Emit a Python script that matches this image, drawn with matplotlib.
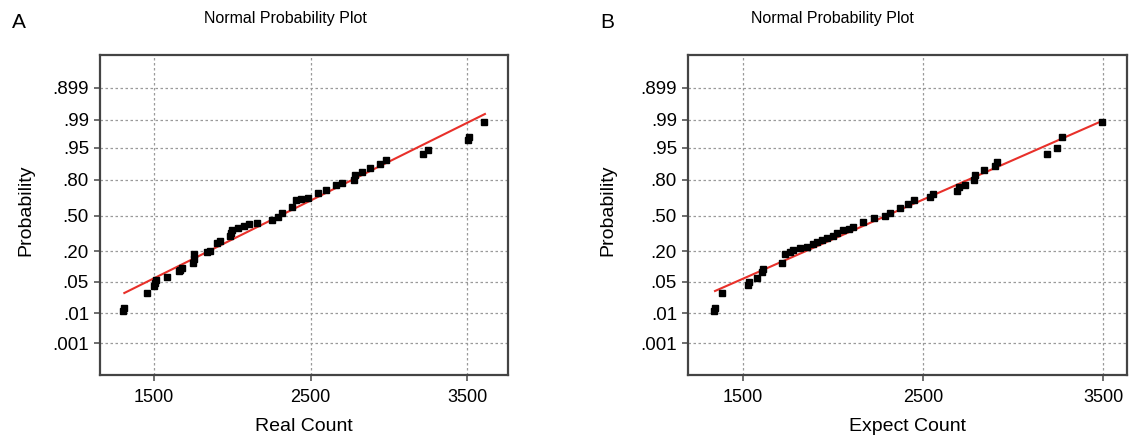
import numpy as np
import matplotlib
matplotlib.use("Agg")
import matplotlib.pyplot as plt

plt.rcParams['font.family'] = ['Liberation Sans', 'DejaVu Sans']

# probability axis: tick labels and their positions on the plot's vertical scale
prob_labels = ['.001', '.01', '.05', '.20', '.50', '.80', '.95', '.99', '.899']
prob_pos = [32, 62, 93, 124, 159, 195, 227, 255, 287]
x_ticks = [1500, 2500, 3500]

# panel A - real count
real_x = [1308, 1312, 1457, 1505, 1511, 1513, 1585, 1660, 1671, 1680, 1750, 1756, 1760,
          1841, 1860, 1905, 1925, 1985, 1991, 2000, 2040, 2076, 2110, 2161, 2257, 2290,
          2321, 2380, 2407, 2440, 2481, 2545, 2600, 2662, 2700, 2780, 2785, 2830, 2876,
          2940, 2982, 3217, 3249, 3505, 3510, 3605]
real_y = [64, 67, 82, 89, 92, 95, 98, 104, 105, 107, 112, 116, 121,
          123, 124, 132, 134, 139, 142, 145, 147, 149, 151, 152, 155, 158,
          162, 168, 175, 176, 177, 182, 185, 190, 192, 195, 200, 203, 207,
          211, 215, 221, 225, 235, 238, 253]
real_fit_x = [1314, 3611]
real_fit_y = [82, 261]

# panel B - expect count
exp_x = [1341, 1345, 1383, 1528, 1533, 1578, 1605, 1615, 1717, 1735, 1760, 1781, 1820,
         1856, 1890, 1911, 1940, 1967, 2000, 2022, 2059, 2090, 2114, 2170, 2226, 2290,
         2318, 2374, 2420, 2448, 2540, 2555, 2689, 2700, 2735, 2781, 2790, 2837, 2900,
         2911, 3189, 3244, 3272, 3494]
exp_y = [64, 67, 82, 90, 93, 97, 103, 106, 112, 121, 123, 125, 127,
         128, 131, 133, 135, 137, 139, 142, 145, 146, 148, 153, 157, 159,
         162, 167, 171, 175, 178, 181, 184, 188, 190, 195, 200, 205, 209,
         213, 221, 227, 238, 253]
exp_fit_x = [1346, 3494]
exp_fit_y = [84, 254]

W, H = 1130, 441
fig = plt.figure(figsize=(W / 100, H / 100), dpi=100)


def panel(rect, xs, ys, fx, fy, xlim, xlabel, letter, title_x, ylab_x):
    ax = fig.add_axes([rect[0] / W, 1 - rect[3] / H, (rect[1] - rect[0]) / W, (rect[3] - rect[2]) / H])
    ax.set_xlim(*xlim)
    ax.set_ylim(0, 320)
    ax.set_xticks(x_ticks)
    ax.set_yticks(prob_pos)
    ax.set_yticklabels(prob_labels)
    ax.grid(True, color='#9a9a9a', linestyle=(0, (2, 2)), linewidth=0.9)
    ax.set_axisbelow(True)
    ax.tick_params(length=4, width=1.2, color='#555555', pad=4)
    ax.tick_params(axis='x', labelsize=13, pad=6)
    ax.tick_params(axis='y', labelsize=13.5)
    for s in ax.spines.values():
        s.set_color('#444444')
        s.set_linewidth(1.6)
    ax.plot(fx, fy, color='#e8302a', lw=1.5, zorder=3)
    ax.plot(xs, ys, 's', color='black', ms=3.8, zorder=4)
    ax.set_xlabel(xlabel, fontsize=14, labelpad=9)
    fig.text(ylab_x / W, 1 - 210 / H, 'Probability', rotation=90, fontsize=14,
             ha='center', va='center')
    fig.text(title_x / W, 1 - 18 / H, 'Normal Probability Plot', fontsize=11.5,
             ha='center', va='center')
    fig.text((rect[0] - 88) / W, 1 - 22 / H, letter, fontsize=15, ha='left', va='center')
    return ax


panel((100, 508, 55, 375), real_x, real_y, real_fit_x, real_fit_y, (1159, 3758),
      'Real Count', 'A', 285, 26)
panel((688, 1127, 55, 375), exp_x, exp_y, exp_fit_x, exp_fit_y, (1196, 3633),
      'Expect Count', 'B', 832, 608)

fig.savefig('out.png', dpi=100)
